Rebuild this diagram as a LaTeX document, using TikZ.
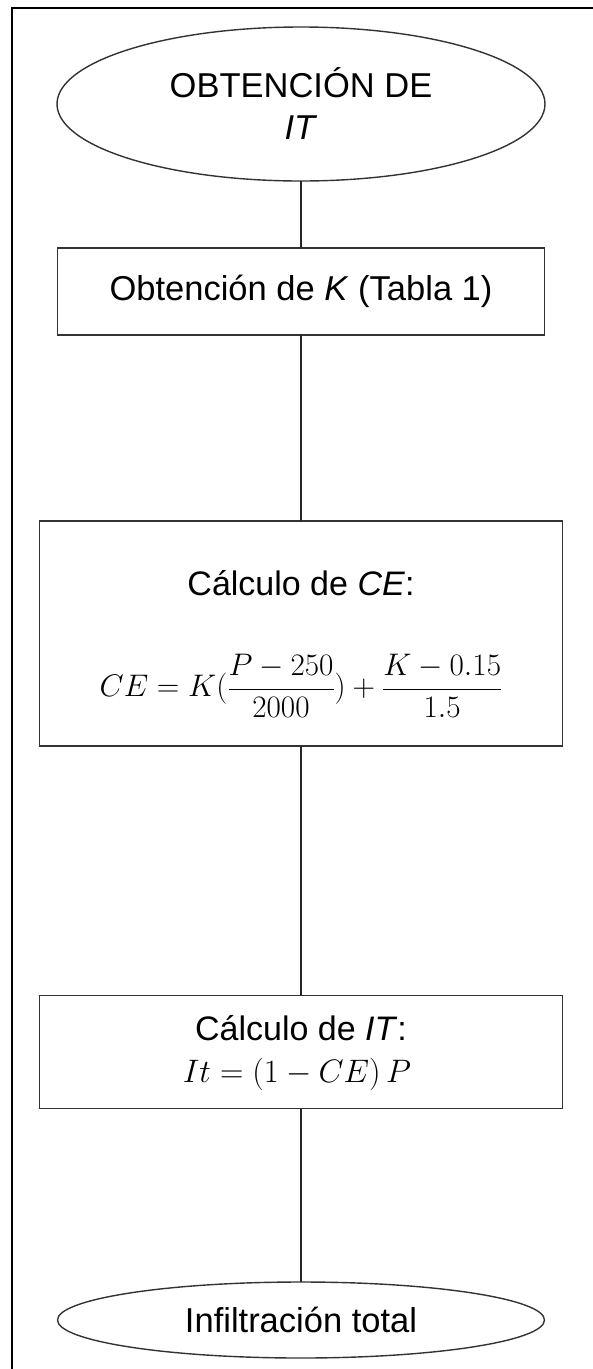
\RequirePackage{fix-cm}
\documentclass[tikz,border=0pt]{standalone}
\usepackage{fontspec}
\setmainfont{Liberation Sans}
\usetikzlibrary{shapes.geometric}
\begin{document}
\begin{tikzpicture}[x=1pt,y=-1pt,
  shapeline/.style={draw=black!80,line width=1.4pt},
  ell/.style={shapeline,ellipse,inner sep=0pt,outer sep=0pt,align=center,font=\fontsize{34.5}{42}\selectfont},
  box/.style={shapeline,rectangle,inner sep=0pt,outer sep=0pt,align=center,font=\fontsize{34.5}{42}\selectfont},
  lbl/.style={inner sep=0pt,anchor=base,font=\fontsize{34}{42}\selectfont},
  conn/.style={draw=black!85,line width=1.4pt},
  frame/.style={draw=black,line width=2pt}]
\useasboundingbox (0,0) rectangle (593,1369);
\draw[frame] (12,1369) -- (12,8) -- (593,8);
\node[ell,minimum width=488pt,minimum height=154pt] (start) at (301,104) {OBTENCIÓN DE\\\textit{IT}};
\node[box,minimum width=487pt,minimum height=87pt] (k) at (301,291.5) {Obtención de \textit{K} (Tabla 1)};
\node[box,minimum width=523pt,minimum height=225pt] (ce) at (301,633.5) {};
\node[lbl] (celbl) at (301,595) {Cálculo de \textit{CE}:};
\node[inner sep=0pt,font=\fontsize{31.2}{38}\selectfont] (ceeq) at (301,686) {$\displaystyle CE = K(\frac{P-250}{2000}) + \frac{K-0.15}{1.5}$};
\node[box,minimum width=523pt,minimum height=113pt] (it) at (301,1052) {};
\node[lbl] (itlbl) at (301,1040) {Cálculo de \textit{IT}:};
\node[lbl,font=\fontsize{32.5}{38}\selectfont] (iteq) at (297,1082) {$It = (1 - CE)\,P$};
\node[ell,minimum width=487pt,minimum height=76pt] (end) at (301,1320) {Infiltración total};
\draw[conn] (start) -- (k);
\draw[conn] (k) -- (ce);
\draw[conn] (ce) -- (it);
\draw[conn] (it) -- (end);
\end{tikzpicture}
\end{document}
